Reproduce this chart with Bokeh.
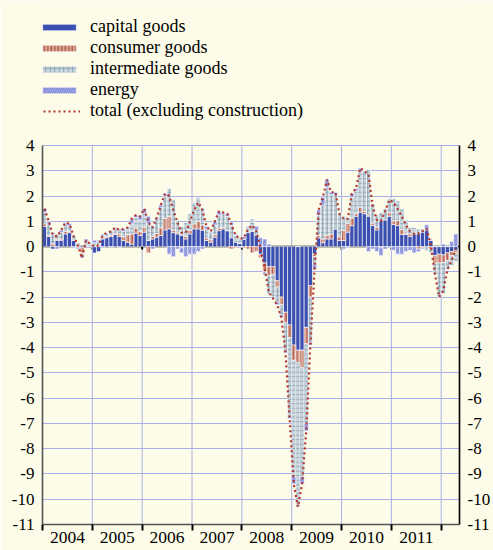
import numpy as np
from bokeh.plotting import figure
from bokeh.models import (FixedTicker, LinearAxis, Range1d, Legend, LegendItem, Span)
from bokeh.embed import file_html
from bokeh.resources import INLINE

# ---------------- data (monthly, Jan 2004 - Apr 2012) ----------------
years = ["2004", "2005", "2006", "2007", "2008", "2009", "2010", "2011"]

capital = [
    0.8, 0.4, -0.1, 0.25, 0.25, 0.5, 0.55, 0.25, 0.0, -0.05, -0.05, -0.05,
    -0.25, -0.2, 0.3, 0.35, 0.4, 0.48, 0.4, 0.24, 0.17, 0.1, 0.53, 0.44,
    0.57, 0.24, 0.3, 0.37, 0.44, 0.66, 0.7, 0.55, 0.5, 0.45, 0.3, 0.5,
    0.7, 0.7, 0.65, 0.24, 0.17, 0.37, 0.63, 0.7, 0.63, 0.35, 0.17, 0.13,
    0.3, 0.55, 0.6, 0.45, -0.3, -0.65, -0.8, -0.8, -1.35, -2.0, -2.6, -3.1,
    -3.9, -4.1, -4.1, -3.2, -1.55, -0.3, 0.34, 0.15, 0.3, 0.3, 0.7, 0.24,
    0.24, 0.57, 0.83, 1.2, 1.36, 1.3, 1.2, 0.83, 0.66, 1.03, 1.06, 1.2,
    0.87, 0.83, 0.48, 0.48, 0.4, 0.5, 0.5, 0.57, 0.66, 0.24, -0.36, -0.3,
    -0.33, -0.25, -0.2, -0.15,
]
consumer = [
    0.1, 0.05, 0.1, 0.05, 0.05, 0.1, 0.05, 0.0, -0.05, -0.2, 0.0, 0.0,
    0.0, 0.05, 0.05, 0.05, 0.05, 0.05, 0.1, 0.15, 0.3, 0.4, 0.2, 0.15,
    0.2, -0.25, 0.1, 0.15, 0.3, 0.45, 0.5, 0.1, 0.05, -0.05, 0.1, 0.15,
    0.2, 0.3, 0.2, 0.1, 0.1, 0.1, 0.1, 0.05, 0.0, -0.1, -0.05, 0.0,
    -0.05, -0.1, -0.25, -0.2, -0.15, -0.35, -0.35, -0.3, -0.25, -0.3, -0.4, -0.5,
    -0.6, -0.5, -0.7, -0.65, -0.45, -0.1, 0.1, 0.15, 0.15, 0.2, 0.0, 0.15,
    0.4, 0.35, 0.3, 0.1, 0.2, 0.1, 0.05, 0.1, 0.1, -0.05, 0.0, 0.15,
    0.15, 0.2, 0.2, 0.05, 0.1, 0.05, -0.1, -0.05, 0.0, -0.1, -0.3, -0.35,
    -0.3, -0.3, -0.15, -0.1,
]
intermediate = [
    0.45, 0.45, 0.4, 0.2, 0.25, 0.3, 0.2, 0.2, 0.15, -0.1, 0.2, 0.1,
    0.15, 0.15, 0.15, 0.15, 0.2, 0.17, 0.2, 0.21, 0.23, 0.4, 0.42, 0.46,
    0.53, 0.66, 0.45, 0.63, 0.81, 0.89, 1.1, 1.2, 0.5, 0.35, 0.55, 0.65,
    0.85, 0.95, 0.7, 0.36, 0.28, 0.38, 0.52, 0.55, 0.57, 0.5, 0.28, 0.22,
    0.0, 0.2, 0.5, 0.2, 0.0, -0.15, -0.75, -0.9, -0.6, -0.4, -1.1, -3.1,
    -4.6, -5.7, -4.3, -3.15, -1.8, -0.3, 0.81, 1.35, 1.9, 1.55, 1.35, 0.91,
    0.56, 0.23, 0.82, 0.9, 1.39, 1.6, 1.8, 0.77, 0.49, 0.32, 0.44, 0.55,
    0.88, 0.77, 0.82, 0.52, 0.25, 0.2, 0.2, 0.13, -0.16, -0.14, -0.44, -1.35,
    -1.22, -0.35, -0.4, -0.35,
]
energy = [
    0.15, 0.1, 0.05, -0.1, 0.1, 0.05, 0.1, -0.05, -0.05, -0.1, 0.1, 0.05,
    0.1, 0.05, -0.05, 0.0, -0.05, 0.05, -0.05, 0.1, 0.05, 0.2, 0.1, 0.15,
    0.2, 0.3, -0.1, 0.0, 0.1, 0.1, -0.3, -0.4, -0.1, -0.2, -0.4, -0.3,
    -0.3, -0.2, -0.1, 0.1, 0.05, 0.15, 0.15, 0.05, 0.1, 0.1, 0.05, -0.05,
    0.1, 0.05, 0.0, 0.15, 0.35, 0.3, 0.1, -0.05, -0.1, -0.1, -0.1, -0.1,
    -0.3, 0.0, -0.3, -0.3, -0.1, -0.2, 0.2, 0.3, 0.3, 0.1, 0.1, 0.0,
    -0.1, -0.05, 0.15, 0.1, 0.15, 0.0, -0.2, -0.1, -0.2, -0.3, -0.1, -0.05,
    -0.15, -0.3, -0.3, -0.2, -0.15, -0.25, -0.1, -0.05, 0.2, 0.05, 0.0, 0.0,
    0.1, 0.0, 0.2, 0.5,
]
total = [
    1.5, 1.0, 0.45, 0.4, 0.65, 0.95, 0.9, 0.4, 0.05, -0.45, 0.25, 0.1,
    0.0, 0.05, 0.45, 0.55, 0.6, 0.75, 0.65, 0.7, 0.75, 1.1, 1.25, 1.2,
    1.5, 0.95, 0.75, 1.15, 1.65, 2.1, 2.0, 1.45, 0.95, 0.55, 0.55, 1.0,
    1.45, 1.75, 1.45, 0.8, 0.6, 1.0, 1.4, 1.35, 1.3, 0.85, 0.45, 0.3,
    0.35, 0.7, 0.85, 0.6, -0.1, -0.85, -1.8, -2.05, -2.3, -2.8, -4.2, -6.8,
    -9.4, -10.3, -9.4, -7.3, -3.9, -0.9, 1.45, 1.95, 2.65, 2.15, 2.15, 1.3,
    1.1, 1.1, 2.1, 2.3, 3.1, 3.0, 2.85, 1.6, 1.05, 1.0, 1.4, 1.85,
    1.75, 1.5, 1.2, 0.85, 0.6, 0.5, 0.5, 0.6, 0.7, 0.05, -1.1, -2.0,
    -1.75, -0.9, -0.55, -0.1,
]
y_ticks = list(range(-11, 5))
y_min, y_max = -11, 4

# ---------------- styling / layout ----------------
FONT = "Liberation Serif"
BG = "#fdfce8"
GRID = "#a9aee6"
W, H = 493, 550
B_LEFT, B_RIGHT, B_BOTTOM = 42, 31, 26
PX_PER_UNIT = 379 / (y_max - y_min)            # plot body 145..524 px
frame_h = H - B_BOTTOM                          # frame also holds the legend area above
y_top = y_min + frame_h / PX_PER_UNIT

n = len(total)
xs = np.arange(n) + 0.5
year_bounds = [12 * i for i in range(len(years) + 1)]
year_centers = [12 * i + 6 for i in range(len(years))]

p = figure(width=W, height=H, output_backend="svg", toolbar_location=None,
           x_range=Range1d(0, 100.4), y_range=Range1d(y_min, y_top),
           min_border_left=B_LEFT, min_border_right=B_RIGHT,
           min_border_top=0, min_border_bottom=B_BOTTOM)
p.background_fill_color = BG
p.border_fill_color = BG
p.outline_line_color = None

# grid: horizontal via ygrid, vertical year lines limited to the plot body
p.xgrid.visible = False
p.ygrid.ticker = FixedTicker(ticks=y_ticks)
p.ygrid.grid_line_color = GRID
p.ygrid.grid_line_width = 1
vg = p.segment(x0=year_bounds[1:], y0=[y_min] * len(years), x1=year_bounds[1:],
               y1=[y_max] * len(years), line_color=GRID, line_width=1)
vg.level = "underlay"

# zero line with year ticks
zero = Span(location=0, dimension="width", line_color="black", line_width=1.5, level="underlay")
p.add_layout(zero)
zt = p.segment(x0=year_bounds[1:], y0=[0] * len(years), x1=year_bounds[1:],
               y1=[-0.12] * len(years), line_color="black", line_width=2)
zt.level = "underlay"

# stacked bars (positives stacked upward, negatives downward)
styles = [
    ("capital goods", capital, dict(fill_color="#3b4fb0")),
    ("consumer goods", consumer, dict(fill_color="#d8a796", hatch_pattern="vertical_line",
                                      hatch_color="#a83a2e", hatch_scale=3.5, hatch_weight=1.0)),
    ("intermediate goods", intermediate, dict(fill_color="#c9d6dd", hatch_pattern="cross",
                                              hatch_color="#8399a9", hatch_scale=4.5, hatch_weight=0.8)),
    ("energy", energy, dict(fill_color="#aeb3ec", hatch_pattern="right_diagonal_line",
                            hatch_color="#5f6cc6", hatch_scale=4.5, hatch_weight=0.9)),
]
pos = np.zeros(n)
neg = np.zeros(n)
items = []
for name, vals, st in styles:
    v = np.array(vals, dtype=float)
    bottom = np.where(v >= 0, pos, neg)
    top = bottom + v
    pos = np.where(v >= 0, top, pos)
    neg = np.where(v < 0, top, neg)
    r = p.vbar(x=xs, bottom=bottom, top=top, width=1.0,
               line_color="white", line_width=0.6, **st)
    items.append(LegendItem(label=name, renderers=[r]))

tl = p.line(xs, total, line_color="#b3352a", line_width=2.2, line_dash="2 3")
items.append(LegendItem(label="total (excluding construction)", renderers=[tl]))

# axes
yt = FixedTicker(ticks=y_ticks)
y_labels = {t: str(t) for t in y_ticks}
p.yaxis.ticker = yt
right_ax = LinearAxis(ticker=yt)
p.add_layout(right_ax, "right")
for ax, col in ((p.yaxis[0], "#555555"), (right_ax, "black")):
    ax.bounds = (y_min, y_max)
    ax.axis_line_color = col
    ax.axis_line_width = 1.6
    ax.major_tick_line_color = None
    ax.minor_tick_line_color = None
    ax.major_tick_out = 0
    ax.major_tick_in = 0
    ax.minor_tick_out = 0
    ax.minor_tick_in = 0
    ax.major_label_standoff = 8
    ax.major_label_overrides = y_labels
    ax.major_label_text_font = FONT
    ax.major_label_text_font_size = "17px"
    ax.major_label_text_color = "black"

xax = p.xaxis[0]
xax.ticker = FixedTicker(ticks=year_centers, minor_ticks=year_bounds)
xax.major_label_overrides = {c: y for c, y in zip(year_centers, years)}
xax.major_tick_line_color = None
xax.major_tick_out = 0
xax.major_tick_in = 0
xax.minor_tick_line_color = "black"
xax.minor_tick_line_width = 2
xax.minor_tick_out = 6
xax.minor_tick_in = 0
xax.axis_line_color = "#555555"
xax.axis_line_width = 1.6
xax.major_label_standoff = 1
xax.major_label_text_font = FONT
xax.major_label_text_font_size = "17.5px"
xax.major_label_text_color = "black"

# legend inside the (extended) frame, above the plot body
legend = Legend(items=items, location=(-4, 403), orientation="vertical",
                glyph_width=42, glyph_height=8, label_standoff=10,
                label_height=20, spacing=0, padding=0, margin=0,
                border_line_color=None, background_fill_alpha=0,
                label_text_font=FONT, label_text_font_size="18px",
                label_text_color="black")
p.add_layout(legend)

open("out.html", "w").write(file_html(p, INLINE))
